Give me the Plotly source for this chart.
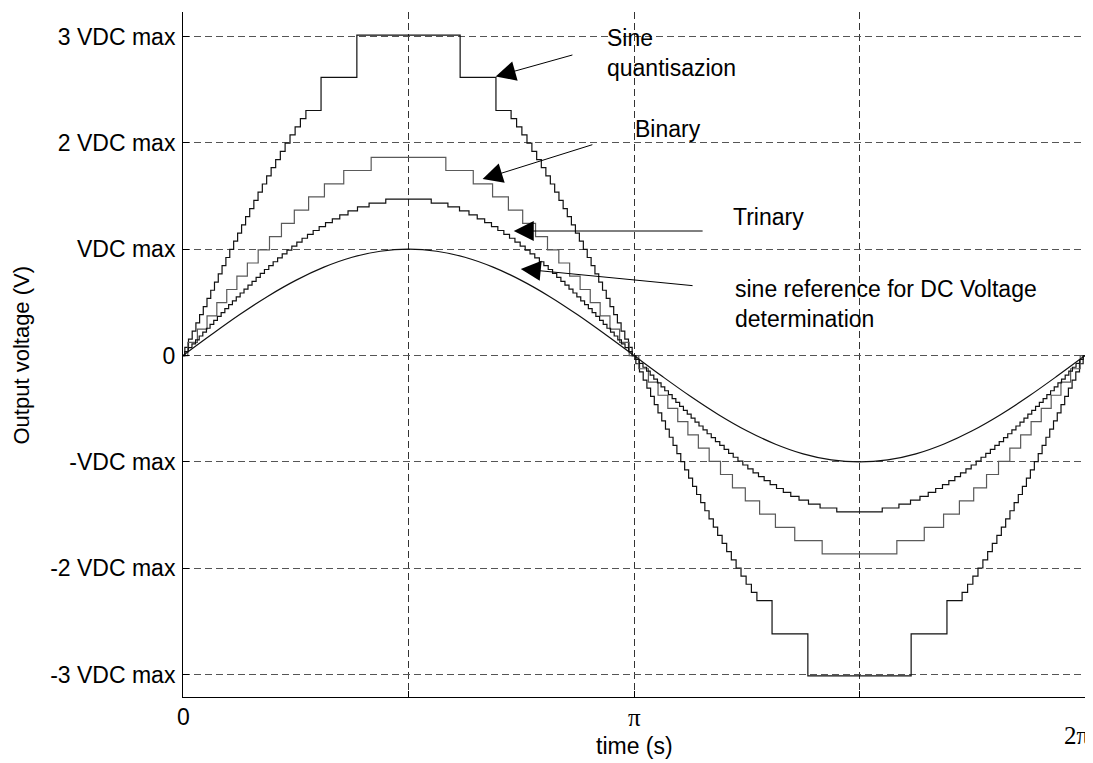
import numpy as np
import plotly.graph_objects as go

PI = np.pi

# ---- data (times in fractions of pi, quarter period; levels in VDC max units) ----
# Binary staircase: transition times (rising quarter) and levels
binary_t = [0.0106, 0.0319, 0.0533, 0.0750, 0.0970, 0.1195, 0.1427, 0.1667,
            0.1918, 0.2183, 0.2468, 0.2785, 0.3136, 0.3564, 0.4172]
binary_levels = [0, 0.124, 0.249, 0.373, 0.497, 0.621, 0.746, 0.870, 0.994,
                 1.118, 1.243, 1.367, 1.491, 1.615, 1.740, 1.864]

# Trinary staircase
trinary_t = [0.0040, 0.0119, 0.0199, 0.0279, 0.0359, 0.0439, 0.0520, 0.0600,
             0.0682, 0.0763, 0.0846, 0.0928, 0.1012, 0.1096, 0.1181, 0.1267,
             0.1353, 0.1441, 0.1531, 0.1621, 0.1713, 0.1806, 0.1902, 0.1999,
             0.2098, 0.2200, 0.2305, 0.2413, 0.2524, 0.2640, 0.2760, 0.2886,
             0.3019, 0.3160, 0.3311, 0.3476, 0.3659, 0.3869, 0.4126, 0.4496]
trinary_levels = [0, 0.037, 0.074, 0.110, 0.147, 0.184, 0.221, 0.257, 0.294,
                  0.331, 0.368, 0.404, 0.441, 0.478, 0.515, 0.551, 0.588,
                  0.625, 0.662, 0.698, 0.735, 0.772, 0.809, 0.845, 0.882,
                  0.919, 0.956, 0.992, 1.029, 1.066, 1.103, 1.139, 1.176,
                  1.213, 1.250, 1.286, 1.323, 1.360, 1.397, 1.433, 1.470]

# Sine quantisation staircase
quant_t = [0.0041, 0.0122, 0.0204, 0.0286, 0.0368, 0.0450, 0.0532, 0.0615,
           0.0698, 0.0782, 0.0866, 0.0951, 0.1037, 0.1123, 0.1211, 0.1299,
           0.1388, 0.1479, 0.1571, 0.1664, 0.1759, 0.1855, 0.1954, 0.2055,
           0.2158, 0.2264, 0.2373, 0.2486, 0.2603, 0.2725, 0.3061, 0.3855]
quant_levels = [0, 0.077, 0.154, 0.230, 0.307, 0.384, 0.461, 0.538, 0.614,
                0.691, 0.768, 0.845, 0.922, 0.998, 1.075, 1.152, 1.229, 1.306,
                1.382, 1.459, 1.536, 1.613, 1.690, 1.766, 1.843, 1.920, 1.997,
                2.074, 2.150, 2.227, 2.304, 2.616, 3.012]

# Sine reference, sampled every pi/16 over one period
ref_t = [k / 16 for k in range(33)]
ref_v = [0, 0.195, 0.383, 0.556, 0.707, 0.831, 0.924, 0.981, 1.000,
         0.981, 0.924, 0.831, 0.707, 0.556, 0.383, 0.195, 0,
         -0.195, -0.383, -0.556, -0.707, -0.831, -0.924, -0.981, -1.000,
         -0.981, -0.924, -0.831, -0.707, -0.556, -0.383, -0.195, 0]

y_tickvals = [-3, -2, -1, 0, 1, 2, 3]
y_ticktext = ["-3 VDC max", "-2 VDC max", "-VDC max", "0",
              "VDC max", "2 VDC max", "3 VDC max"]


def staircase(trans, levels):
    xs, ys = [0.0], [levels[0]]
    for t, lv in zip(trans, levels[1:]):
        xs.append(t); ys.append(lv)
    for t, lv in zip(trans[::-1], levels[:-1][::-1]):
        xs.append(1 - t); ys.append(lv)
    for t, lv in zip(trans, levels[1:]):
        xs.append(1 + t); ys.append(-lv)
    for t, lv in zip(trans[::-1], levels[:-1][::-1]):
        xs.append(2 - t); ys.append(-lv)
    xs.append(2.0); ys.append(0.0)
    return np.array(xs) * PI, np.array(ys)


fig = go.Figure()
for (tr, lv, col) in [(quant_t, quant_levels, "#111111"),
                      (binary_t, binary_levels, "#5a5a5a"),
                      (trinary_t, trinary_levels, "#111111")]:
    xs, ys = staircase(tr, lv)
    fig.add_trace(go.Scatter(x=xs, y=ys, mode="lines",
                             line=dict(color=col, width=1.2, shape="hv"),
                             hoverinfo="skip"))

fig.add_trace(go.Scatter(x=np.array(ref_t) * PI, y=ref_v, mode="lines",
                         line=dict(color="#111111", width=1.2, shape="spline"),
                         hoverinfo="skip"))

FONT = "Liberation Sans, Arial, sans-serif"
SERIF = "Liberation Serif, Times New Roman, serif"
FS = 23

annotations = []
# arrows: (head x, head y, tail x, tail y) in data units
arrows = [(2.178, 2.624, 2.723, 2.830),
          (2.087, 1.659, 2.862, 1.987),
          (2.304, 1.171, 3.630, 1.171),
          (2.353, 0.815, 3.560, 0.656)]
for hx, hy, tx, ty in arrows:
    annotations.append(dict(x=hx, y=hy, ax=tx, ay=ty, xref="x", yref="y",
                            axref="x", ayref="y", text="", showarrow=True,
                            arrowhead=2, arrowsize=4, arrowwidth=1,
                            arrowcolor="black", standoff=0, startstandoff=0))

labels = [("Sine<br>quantisazion", 2.939, 2.844),
          ("Binary", 3.135, 2.127),
          ("Trinary", 3.819, 1.303),
          ("sine reference for DC Voltage<br>determination", 3.833, 0.487)]
for txt, x, y in labels:
    annotations.append(dict(x=x, y=y, xref="x", yref="y", text=txt,
                            showarrow=False, xanchor="left", yanchor="middle",
                            align="left", font=dict(family=FONT, size=FS, color="black")))

# x tick labels and title
annotations += [
    dict(x=0, y=-0.029, xref="x", yref="paper", text="0", showarrow=False,
         xanchor="center", yanchor="middle", font=dict(family=FONT, size=FS, color="black")),
    dict(x=PI, y=-0.03, xref="x", yref="paper", text="π", showarrow=False,
         xanchor="center", yanchor="middle", font=dict(family=SERIF, size=FS + 2, color="black")),
    dict(x=6.228, y=-0.056, xref="x", yref="paper", text="2π", showarrow=False,
         xanchor="center", yanchor="middle", font=dict(family=SERIF, size=FS + 2, color="black")),
    dict(x=PI, y=-0.071, xref="x", yref="paper", text="time (s)", showarrow=False,
         xanchor="center", yanchor="middle", font=dict(family=FONT, size=FS, color="black")),
    dict(x=-0.1785, y=0.5, xref="paper", yref="paper", text="Output voltage (V)",
         showarrow=False, textangle=-90, xanchor="center", yanchor="middle",
         borderpad=0, font=dict(family=FONT, size=22, color="black")),
]

# page body has an 8px default margin, so the figure is 8px smaller with
# margins reduced accordingly
fig.update_layout(
    width=1085, height=755,
    margin=dict(l=175, r=8, t=4, b=66),
    paper_bgcolor="white", plot_bgcolor="white",
    showlegend=False,
    annotations=annotations,
    font=dict(family=FONT, size=FS, color="black"),
)
fig.update_xaxes(range=[0, 2 * PI], tickvals=[0, PI / 2, PI, 3 * PI / 2, 2 * PI],
                 showticklabels=False, ticks="inside", ticklen=6, tickcolor="black",
                 showgrid=True, gridcolor="#333333", griddash="7px,4px", gridwidth=1,
                 zeroline=False, showline=True, linecolor="black", linewidth=1,
                 automargin=False)
fig.update_yaxes(range=[-3.21, 3.23], tickvals=y_tickvals, ticktext=y_ticktext,
                 ticks="inside", ticklen=6, tickcolor="black",
                 tickfont=dict(family=FONT, size=FS, color="black"),
                 showgrid=True, gridcolor="#555555", griddash="7px,4px", gridwidth=1,
                 zeroline=False, showline=True, linecolor="black", linewidth=1,
                 automargin=False, ticklabelstandoff=2)

fig.write_html("out.html")
